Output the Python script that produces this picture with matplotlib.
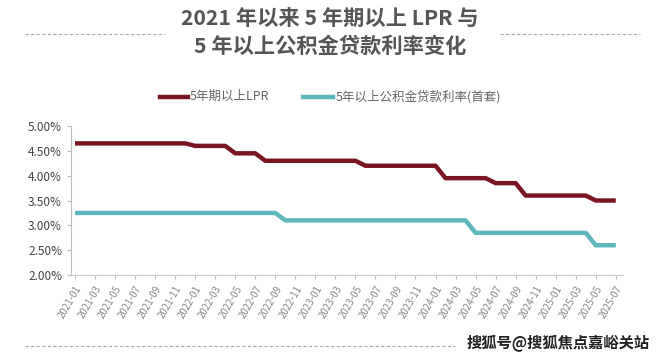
import numpy as np
import matplotlib
matplotlib.use("Agg")
import matplotlib.pyplot as plt

plt.rcParams['font.family'] = ['Noto Sans CJK SC', 'DejaVu Sans']

# monthly from 2021-01 to 2025-07
months = [f"{y}-{m:02d}" for y in range(2021, 2026) for m in range(1, 13)][:55]

# 5年期以上LPR (%), segments: (value, number of months)
lpr_steps = [(4.65, 12), (4.60, 4), (4.45, 3), (4.30, 10), (4.20, 8), (3.95, 5), (3.85, 3), (3.60, 7), (3.50, 3)]
# 5年以上公积金贷款利率(首套) (%)
pf_steps = [(3.25, 21), (3.10, 19), (2.85, 12), (2.60, 3)]

lpr = [v for v, n in lpr_steps for _ in range(n)]
pf = [v for v, n in pf_steps for _ in range(n)]

c_lpr = "#7a1522"
c_pf = "#5db7bd"

fig = plt.figure(figsize=(6.6, 3.6), dpi=100)
ax = fig.add_axes([0.1076, 0.236, 0.836, 0.414])

x = np.arange(len(months))
ax.plot(x, lpr, color=c_lpr, lw=3.2, solid_capstyle="butt")
ax.plot(x, pf, color=c_pf, lw=3.2, solid_capstyle="butt")

ax.set_ylim(2.0, 5.0)
ax.set_yticks(np.arange(2.0, 5.01, 0.5))
ax.set_yticklabels([f"{v:.2f}%" for v in np.arange(2.0, 5.01, 0.5)], fontsize=8.5, color="#444444")
ax.set_xlim(-0.4, len(months) - 0.3)
ax.set_xticks(x[::2])
ax.set_xticklabels(months[::2], rotation=60, ha="right", rotation_mode="anchor",
                   fontsize=7, color="#888888")
for s in ["top", "right"]:
    ax.spines[s].set_visible(False)
ax.spines["left"].set_color("#bbbbbb")
ax.spines["bottom"].set_color("#cccccc")
ax.tick_params(axis="both", colors="#bbbbbb", length=3, width=0.8)
ax.tick_params(axis="y", labelcolor="#444444")
ax.tick_params(axis="x", labelcolor="#888888")

# title
fig.text(0.5, 0.945, "2021 年以来 5 年期以上 LPR 与", ha="center", va="center",
         fontsize=15.3, fontweight="bold", color="#555555")
fig.text(0.5, 0.872, "5 年以上公积金贷款利率变化", ha="center", va="center",
         fontsize=15.3, fontweight="bold", color="#555555")
fig.add_artist(plt.Line2D([0.038, 0.25], [0.905, 0.905], color="#aaaaaa", lw=0.8, ls=(0, (3, 2))))
fig.add_artist(plt.Line2D([0.757, 0.97], [0.905, 0.905], color="#aaaaaa", lw=0.8, ls=(0, (3, 2))))

# legend
fig.add_artist(plt.Line2D([0.242, 0.285], [0.731, 0.731], color=c_lpr, lw=3.2))
fig.text(0.288, 0.731, "5年期以上LPR", ha="left", va="center", fontsize=9, color="#666666")
fig.add_artist(plt.Line2D([0.459, 0.505], [0.731, 0.731], color=c_pf, lw=3.2))
fig.text(0.508, 0.731, "5年以上公积金贷款利率(首套)", ha="left", va="center", fontsize=9, color="#666666")

# footer
fig.add_artist(plt.Line2D([0.038, 0.69], [0.04, 0.04], color="#aaaaaa", lw=0.8, ls=(0, (3, 2))))
fig.text(0.985, 0.047, "搜狐号@搜狐焦点嘉峪关站", ha="right", va="center", fontsize=11,
         fontweight="bold", color="#222222")

fig.savefig("out.png", dpi=100, facecolor="white")
